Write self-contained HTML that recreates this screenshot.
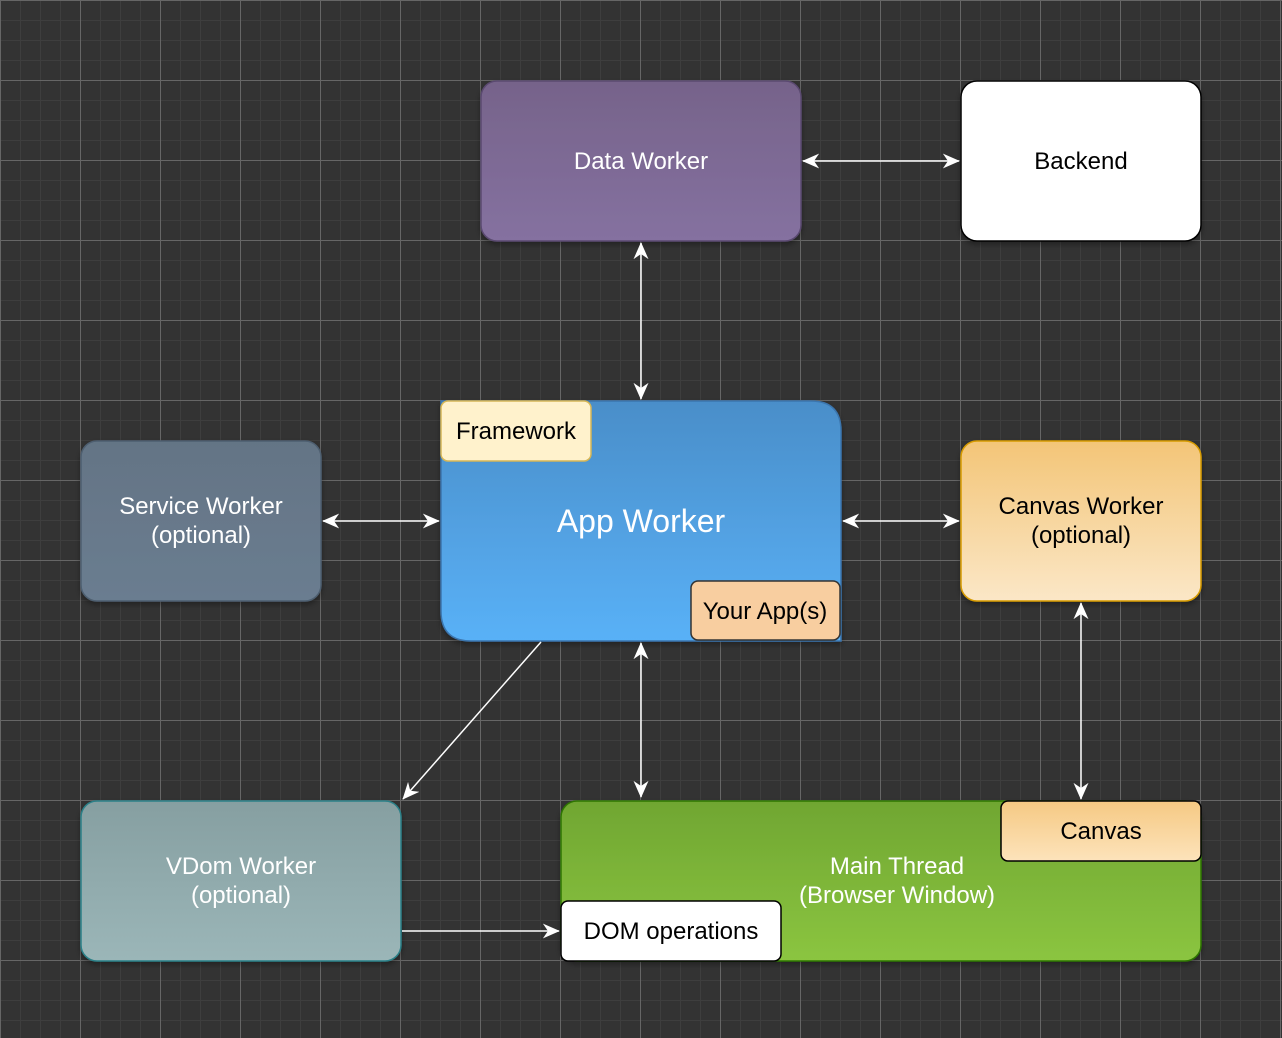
<!DOCTYPE html>
<html><head><meta charset="utf-8"><style>
html,body{margin:0;padding:0;background:#333;}
svg{display:block;font-family:"Liberation Sans",Arial,sans-serif;}
</style></head><body>
<svg width="1282" height="1038" viewBox="0 0 1282 1038" xmlns="http://www.w3.org/2000/svg">
<defs>
<pattern id="minor" width="20" height="20" patternUnits="userSpaceOnUse">
<path d="M20 0H0V20" fill="none" stroke="#3e3e3e" stroke-width="2"/>
</pattern>
<pattern id="major" width="80" height="80" patternUnits="userSpaceOnUse">
<path d="M80 0.5H0.5V80" fill="none" stroke="#666" stroke-width="1"/>
</pattern>
<linearGradient id="gP" x1="0" y1="0" x2="0" y2="1"><stop offset="0" stop-color="#76638a"/><stop offset="1" stop-color="#8571a0"/></linearGradient>
<linearGradient id="gB" x1="0" y1="0" x2="0" y2="1"><stop offset="0" stop-color="#4a8ec9"/><stop offset="1" stop-color="#59b1f7"/></linearGradient>
<linearGradient id="gS" x1="0" y1="0" x2="0" y2="1"><stop offset="0" stop-color="#647485"/><stop offset="1" stop-color="#6a7d90"/></linearGradient>
<linearGradient id="gC" x1="0" y1="0" x2="0" y2="1"><stop offset="0" stop-color="#f3c577"/><stop offset="1" stop-color="#fbe7c7"/></linearGradient>
<linearGradient id="gV" x1="0" y1="0" x2="0" y2="1"><stop offset="0" stop-color="#869fa1"/><stop offset="1" stop-color="#9bb6b8"/></linearGradient>
<linearGradient id="gG" x1="0" y1="0" x2="0" y2="1"><stop offset="0" stop-color="#70a632"/><stop offset="1" stop-color="#8bc540"/></linearGradient>
<linearGradient id="gCv" x1="0" y1="0" x2="0" y2="1"><stop offset="0" stop-color="#f5c983"/><stop offset="1" stop-color="#fde3bb"/></linearGradient>
<marker id="ah" viewBox="0 0 10 10" refX="9.5" refY="5" markerWidth="17" markerHeight="15" orient="auto-start-reverse" markerUnits="userSpaceOnUse" preserveAspectRatio="none">
<path d="M0 0L10 5L0 10L3 5Z" fill="#fff"/>
</marker>
<filter id="sh" x="-10%" y="-10%" width="120%" height="130%"><feDropShadow dx="0" dy="3" stdDeviation="3" flood-color="#000" flood-opacity="0.35"/></filter>
</defs>
<rect width="1282" height="1038" fill="#333"/>
<rect width="1282" height="1038" fill="url(#minor)"/>
<rect width="1282" height="1038" fill="url(#major)"/>

<g filter="url(#sh)">
<rect x="481" y="81" width="320" height="160" rx="16" fill="url(#gP)" stroke="#5a4a70" stroke-width="1.5"/>
<rect x="961" y="81" width="240" height="160" rx="16" fill="#fff" stroke="#000" stroke-width="1.5"/>
<path d="M441 401H811Q841 401 841 431V641H471Q441 641 441 611Z" fill="url(#gB)" stroke="#3a74ad" stroke-width="1.5"/>
<rect x="81" y="441" width="240" height="160" rx="16" fill="url(#gS)" stroke="#4e5e70" stroke-width="1.5"/>
<rect x="961" y="441" width="240" height="160" rx="16" fill="url(#gC)" stroke="#d79b00" stroke-width="1.5"/>
<rect x="81" y="801" width="320" height="160" rx="16" fill="url(#gV)" stroke="#2c8088" stroke-width="1.5"/>
<rect x="561" y="801" width="640" height="160" rx="16" fill="url(#gG)" stroke="#2d7600" stroke-width="1.5"/>
</g>
<rect x="441" y="401" width="150" height="60" rx="7" fill="#fff2cc" stroke="#d6b656" stroke-width="1.5"/>
<rect x="691" y="581" width="149" height="59" rx="7" fill="#f8cea0" stroke="#333" stroke-width="1.5"/>
<rect x="1001" y="801" width="200" height="60" rx="7" fill="url(#gCv)" stroke="#000" stroke-width="1.5"/>
<rect x="561" y="901" width="220" height="60" rx="7" fill="#fff" stroke="#000" stroke-width="1.5"/>

<g stroke="#fff" stroke-width="1.5" fill="none">
<line x1="803" y1="161" x2="959" y2="161" marker-start="url(#ah)" marker-end="url(#ah)"/>
<line x1="641" y1="243" x2="641" y2="399" marker-start="url(#ah)" marker-end="url(#ah)"/>
<line x1="323" y1="521" x2="439" y2="521" marker-start="url(#ah)" marker-end="url(#ah)"/>
<line x1="843" y1="521" x2="959" y2="521" marker-start="url(#ah)" marker-end="url(#ah)"/>
<line x1="641" y1="643" x2="641" y2="797" marker-start="url(#ah)" marker-end="url(#ah)"/>
<line x1="1081" y1="603" x2="1081" y2="799" marker-start="url(#ah)" marker-end="url(#ah)"/>
<line x1="541" y1="642" x2="403" y2="799" marker-end="url(#ah)"/>
<line x1="402" y1="931" x2="559" y2="931" marker-end="url(#ah)"/>
</g>

<g font-size="24" text-anchor="middle">
<text x="641" y="169" fill="#fff">Data Worker</text>
<text x="1081" y="169" fill="#000">Backend</text>
<text x="641" y="532" fill="#fff" font-size="32">App Worker</text>
<text x="516" y="439" fill="#000">Framework</text>
<text x="765" y="619" fill="#000">Your App(s)</text>
<text x="201" y="514" fill="#fff">Service Worker</text>
<text x="201" y="543" fill="#fff">(optional)</text>
<text x="1081" y="514" fill="#000">Canvas Worker</text>
<text x="1081" y="543" fill="#000">(optional)</text>
<text x="241" y="874" fill="#fff">VDom Worker</text>
<text x="241" y="903" fill="#fff">(optional)</text>
<text x="897" y="874" fill="#fff">Main Thread</text>
<text x="897" y="903" fill="#fff">(Browser Window)</text>
<text x="1101" y="839" fill="#000">Canvas</text>
<text x="671" y="939" fill="#000">DOM operations</text>
</g>
</svg>
</body></html>
